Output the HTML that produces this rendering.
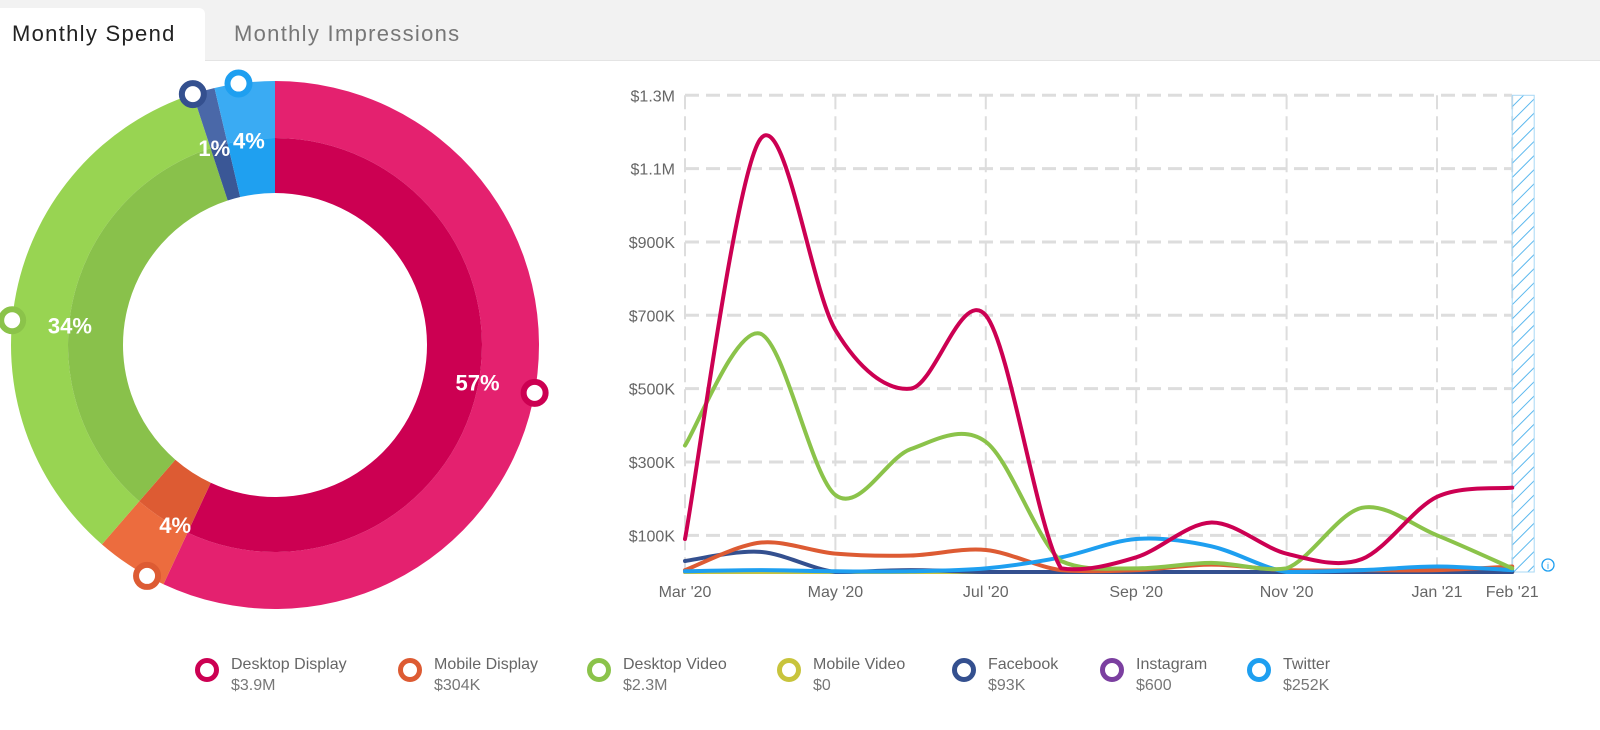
<!DOCTYPE html>
<html><head><meta charset="utf-8">
<style>
body{margin:0;width:1600px;height:730px;background:#fff;font-family:"Liberation Sans",sans-serif;overflow:hidden;position:relative}
.tabbar{position:absolute;left:0;top:0;width:1600px;height:60px;background:#f2f2f2;border-bottom:1px solid #e4e4e4}
.tab{position:absolute;top:8px;height:53px;font-size:22px;line-height:52px;padding-left:12px;letter-spacing:1.3px}
.tab.active{left:0;width:193px;background:#fff;border-radius:0 6px 0 0;color:#222}
.tab.other{left:222px;color:#777}
.legend{position:absolute;top:655px;font-size:16px;color:#666;line-height:20px}
.legend .ring{position:absolute;left:0;top:3px;width:14px;height:14px;border-radius:50%;border-width:5px;border-style:solid}
.legend .t{position:absolute;left:36px;top:0;white-space:nowrap}
.legend .v{position:absolute;left:36px;top:21px;white-space:nowrap;color:#777}
</style></head><body>
<div class="tabbar">
<div class="tab active">Monthly Spend</div>
<div class="tab other">Monthly Impressions</div>
</div>
<svg id="donut" width="600" height="640" style="position:absolute;left:0;top:0"></svg>
<svg id="line" width="1000" height="640" style="position:absolute;left:600px;top:0"></svg>
<div id="legend"></div>
<script>
const names=["Desktop Display","Mobile Display","Desktop Video","Mobile Video","Facebook","Instagram","Twitter"];
const colors=["#cc0052","#dd5b33","#8bc34a","#c8c43c","#34508f","#7b3fa0","#1e9ff0"];
const totals=["$3.9M","$304K","$2.3M","$0","$93K","$600","$252K"];
const shares=[3.9,0.304,2.3,0,0.093,0.0006,0.252];
const months=["Mar '20","Apr '20","May '20","Jun '20","Jul '20","Aug '20","Sep '20","Oct '20","Nov '20","Dec '20","Jan '21","Feb '21"];
const tickMonths=[0,2,4,6,8,10,11];
const yTicks=[100,300,500,700,900,1100,1300];
const yTickLabels=["$100K","$300K","$500K","$700K","$900K","$1.1M","$1.3M"];
const desktopDisplay=[90,1180,660,500,700,10,40,135,50,35,205,230];
const mobileDisplay=[5,80,50,45,60,5,5,20,5,5,5,15];
const desktopVideo=[345,650,210,335,355,30,10,25,10,175,100,10];
const mobileVideo=[0,0,0,0,0,0,0,0,0,0,0,0];
const facebook=[30,55,0,5,0,0,0,0,0,0,0,0];
const instagram=[0,0,0,0,0,0,0,0,0,0,0,0];
const twitter=[2,5,2,2,10,40,90,70,0,5,15,5];
const series=[desktopDisplay,mobileDisplay,desktopVideo,mobileVideo,facebook,instagram,twitter];
const NS="http://www.w3.org/2000/svg";
function mk(p,tag,at){const e=document.createElementNS(NS,tag);for(const k in at)e.setAttribute(k,at[k]);p.appendChild(e);return e;}

// Donut
const d=document.getElementById('donut');
const cx=275,cy=345,R=264,Rm=207,Ri=152;
const outerC=["#e4216f","#ec6c3e","#98d452","#c8c43c","#4a68a8","#7b3fa0","#3aabf3"];
const innerC=["#cc0052","#dd5b33","#89c14b","#c8c43c","#3a5796","#7b3fa0","#1fa0f0"];
const order=[0,1,2,4,6];
const tot=order.reduce((s,i)=>s+shares[i],0);
function pt(r,a){return [cx+r*Math.sin(a),cy-r*Math.cos(a)];}
function arc(r1,r2,a0,a1){const L=(a1-a0)>Math.PI?1:0;const p0=pt(r2,a0),p1=pt(r2,a1),q1=pt(r1,a1),q0=pt(r1,a0);
return `M${p0}A${r2},${r2} 0 ${L} 1 ${p1}L${q1}A${r1},${r1} 0 ${L} 0 ${q0}Z`;}
const labelFrac=[0.49,0.25,0.45,0.2,0.45];
const markerFrac=[0.49,0.25,0.45,0.0,0.4];
let a=0;
order.forEach((i,k)=>{
  const span=shares[i]/tot*2*Math.PI;
  const seg=mk(d,'path',{d:arc(Rm,R,a,a+span),fill:outerC[i]});
  
  
  const seg2=mk(d,'path',{d:arc(Ri,Rm,a,a+span),fill:innerC[i]});
  
  
  a+=span;
});
a=0;
order.forEach((i,k)=>{
  const span=shares[i]/tot*2*Math.PI;
  const la=a+span*labelFrac[k];const lp=pt(206,la);
  const t=mk(d,'text',{x:lp[0],y:lp[1]+8,'text-anchor':'middle','font-size':22,'font-weight':'bold',fill:'#fff','font-family':'Liberation Sans'});
  t.textContent=Math.round(shares[i]/tot*100)+'%';
  
  
  const mp=pt(R,a+span*markerFrac[k]);
  const m=mk(d,'circle',{cx:mp[0],cy:mp[1],r:11,fill:'#fff',stroke:colors[i],'stroke-width':6});
  
  
  a+=span;
});

// Line chart
const g=document.getElementById('line');
const X0=85,XS=75.2,Y0=572,YS=0.3667;
const xs=i=>X0+i*XS, ys=v=>Y0-v*YS;
yTicks.forEach((v,k)=>{
  const l=mk(g,'line',{x1:X0,x2:912,y1:ys(v),y2:ys(v),stroke:'#ddd','stroke-width':3,'stroke-dasharray':'14 7'});
  
  
  const t=mk(g,'text',{x:75,y:ys(v)+6,'text-anchor':'end','font-size':16,fill:'#666'});
  t.textContent=yTickLabels[k];
  
  
});
tickMonths.forEach(i=>{
  const l=mk(g,'line',{x1:xs(i),x2:xs(i),y1:ys(1300),y2:Y0,stroke:'#ddd','stroke-width':2,'stroke-dasharray':'14 7'});
  
  
  const t=mk(g,'text',{x:xs(i),y:597,'text-anchor':'middle','font-size':16,fill:'#666'});
  t.textContent=months[i];
  
  
});
const defs=mk(g,'defs',{});
const pat=mk(defs,'pattern',{id:'hatch',width:10,height:10,patternUnits:'userSpaceOnUse',patternTransform:'rotate(45)'});
mk(pat,'line',{x1:0,y1:0,x2:0,y2:10,stroke:'#5bb8ee','stroke-width':2});
const hx=xs(11);
const hr=mk(g,'rect',{x:hx,y:ys(1300),width:22,height:Y0-ys(1300),fill:'url(#hatch)',stroke:'#a8d8f5','stroke-width':1});


const ic=mk(g,'circle',{cx:948,cy:565,r:6,fill:'none',stroke:'#1e9ff0','stroke-width':1.3});


const it=mk(g,'text',{x:948,y:569,'text-anchor':'middle','font-size':9,fill:'#1e9ff0'});it.textContent='i';
function path(vals){
  const P=vals.map((v,i)=>[xs(i),ys(v)]);
  let s=`M${P[0][0]},${P[0][1]}`;
  for(let i=0;i<P.length-1;i++){
    const p0=P[Math.max(0,i-1)],p1=P[i],p2=P[i+1],p3=P[Math.min(P.length-1,i+2)];
    const t=0.16;
    const c1=[p1[0]+(p2[0]-p0[0])*t,p1[1]+(p2[1]-p0[1])*t];
    const c2=[p2[0]-(p3[0]-p1[0])*t,p2[1]-(p3[1]-p1[1])*t];
    c1[1]=Math.min(c1[1],Y0);c2[1]=Math.min(c2[1],Y0);
    s+=`C${c1} ${c2} ${p2}`;
  }
  return s;
}
const drawOrder=[5,3,4,1,6,2,0];
drawOrder.forEach(i=>{
  const p=mk(g,'path',{d:path(series[i]),fill:'none',stroke:colors[i],'stroke-width':4,'stroke-linejoin':'round','stroke-linecap':'round'});
  
  
});

const lg=document.getElementById('legend');
const lx=[195,398,587,777,952,1100,1247];
names.forEach((n,i)=>{
  const e=document.createElement('div');e.className='legend';e.style.left=lx[i]+'px';
  
  
  e.innerHTML=`<div class="ring" style="border-color:${colors[i]}"></div><div class="t">${n}</div><div class="v">${totals[i]}</div>`;
  lg.appendChild(e);
});
</script>
</body></html>
